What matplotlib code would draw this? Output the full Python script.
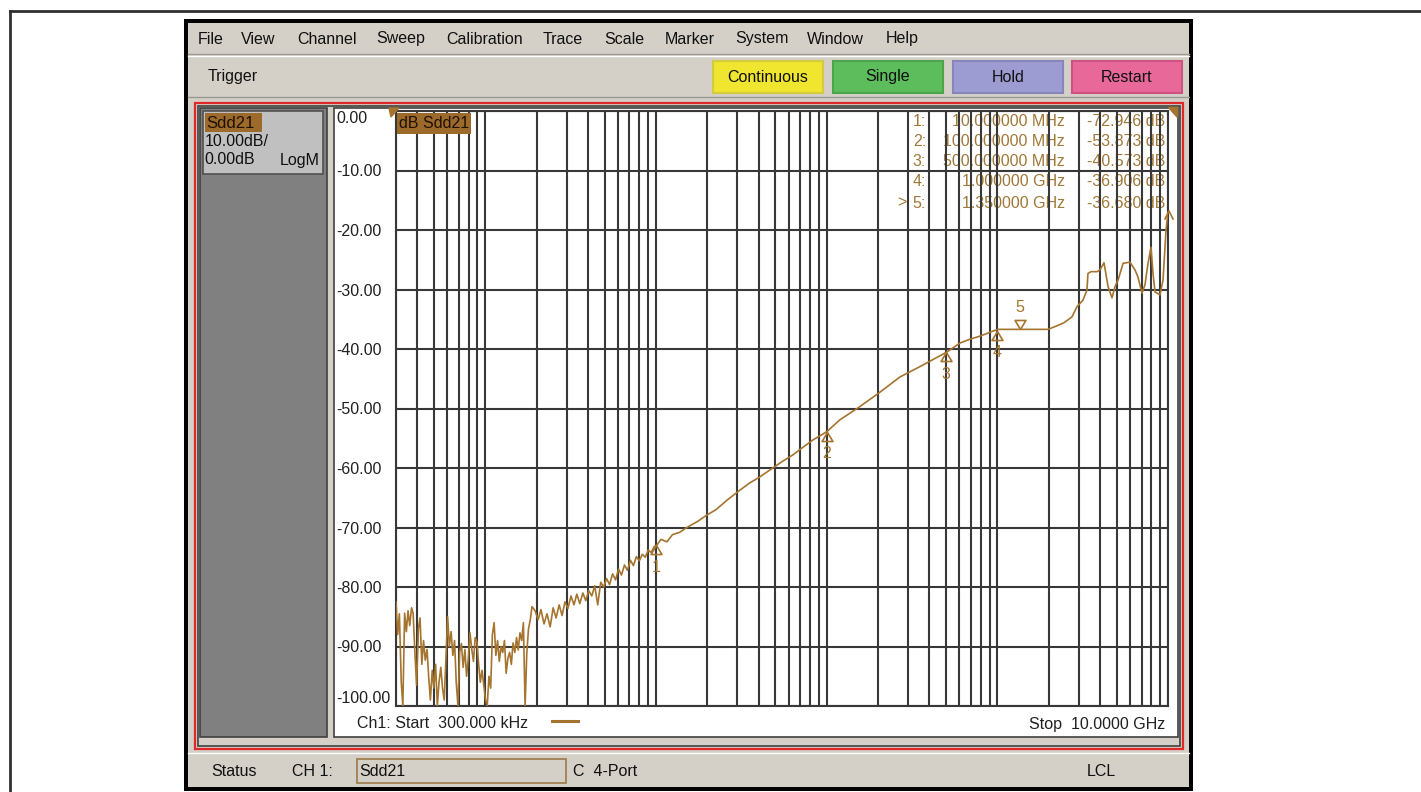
import matplotlib
matplotlib.use("Agg")
import matplotlib.pyplot as plt
from matplotlib.patches import Rectangle, Polygon
from matplotlib.ticker import FixedLocator, NullFormatter, NullLocator
import numpy as np

plt.rcParams['font.family'] = ['Liberation Sans', 'DejaVu Sans']

# trace: frequency in MHz, Sdd21 in dB
# noise floor part (300 kHz .. 1.9 MHz)
noise_mhz = [0.300, 0.307, 0.314, 0.322, 0.329, 0.337, 0.345, 0.353, 0.361, 0.370,
             0.378, 0.387, 0.396, 0.406, 0.415, 0.425, 0.435, 0.445, 0.456, 0.466,
             0.477, 0.489, 0.500, 0.512, 0.524, 0.536, 0.549, 0.562, 0.575, 0.588,
             0.602, 0.616, 0.631, 0.646, 0.661, 0.676, 0.692, 0.708, 0.725, 0.742,
             0.760, 0.777, 0.796, 0.814, 0.834, 0.853, 0.873, 0.894, 0.915, 0.936,
             0.958, 0.981, 1.004, 1.027, 1.051, 1.076, 1.101, 1.127, 1.154, 1.181,
             1.209, 1.237, 1.266, 1.296, 1.326, 1.357, 1.389, 1.422, 1.455, 1.490,
             1.525, 1.560, 1.597, 1.635, 1.673, 1.712, 1.752, 1.793, 1.836, 1.879]
noise_db = [-82.5, -88.0, -84.5, -96.0, -100, -84.4, -87.5, -84.0, -86.5, -83.5,
            -84.4, -91.0, -96.5, -87.0, -85.2, -93.0, -89.0, -92.3, -90.5, -95.0,
            -99.0, -94.0, -97.0, -93.0, -100, -96.0, -93.5, -97.0, -99.0, -92.0,
            -85.0, -90.0, -87.5, -91.5, -89.0, -96.0, -100, -91.0, -89.5, -93.5,
            -90.5, -95.0, -92.0, -87.7, -90.5, -92.5, -88.5, -89.2, -93.0, -96.0,
            -94.0, -96.5, -99.0, -100, -95.0, -97.0, -88.0, -86.0, -91.5, -89.0,
            -92.5, -90.0, -91.0, -89.0, -94.5, -92.0, -91.0, -93.0, -89.4, -91.0,
            -88.5, -90.6, -87.7, -89.0, -86.0, -100, -91.0, -87.0, -85.5, -83.3]
# rising part (1.9 MHz .. 10 GHz)
rise_mhz = [1.96, 2.04, 2.12, 2.21, 2.30, 2.40, 2.50, 2.60, 2.71, 2.82,
            2.93, 3.05, 3.18, 3.31, 3.44, 3.58, 3.73, 3.88, 4.04, 4.21,
            4.38, 4.56, 4.75, 4.94, 5.14, 5.35, 5.57, 5.80, 6.04, 6.28,
            6.54, 6.81, 7.09, 7.38, 7.68, 7.99, 8.32, 8.66, 9.01, 9.38,
            9.77, 10.1, 10.7, 11.6, 12.5, 13.8, 14.8, 15.8, 17.5, 19.9,
            22.5, 26.1, 31.1, 35.5, 40.6, 48.4, 55.0, 63.4, 72.0, 83.0,
            100.2, 119.6, 152.6, 200, 269, 350, 430, 507, 604, 700,
            760, 850, 942, 1008, 1350, 1980, 2238, 2450, 2594, 2738,
            2928, 3173, 3351, 3397, 3538, 3836, 3995, 4218, 4452, 4700,
            4896, 5100, 5455, 5987, 6404, 6669, 7040, 7332, 7636, 7952,
            8169, 8393, 8977, 9350, 9736, 10000]
rise_db = [-84.0, -85.5, -83.8, -86.2, -84.5, -86.7, -83.5, -85.2, -83.0, -84.8,
           -82.5, -83.6, -81.5, -83.0, -81.2, -82.8, -81.0, -82.3, -80.6, -81.5,
           -79.8, -83.0, -79.2, -80.0, -78.6, -79.6, -77.8, -78.8, -77.0, -78.0,
           -76.3, -77.2, -75.5, -76.4, -74.9, -75.6, -74.5, -75.0, -73.8, -74.2,
           -73.2, -73.0, -72.0, -72.4, -71.2, -70.8, -70.2, -69.7, -69.0, -67.9,
           -67.0, -65.4, -63.7, -62.5, -61.5, -60.0, -58.9, -57.8, -56.6, -55.3,
           -53.9, -51.9, -49.9, -47.5, -44.7, -43.0, -41.6, -40.5, -39.0, -38.3,
           -38.0, -37.5, -37.0, -36.7, -36.7, -36.7, -36.1, -35.6, -35.1, -34.6,
           -32.9, -31.8, -30.1, -27.3, -27.0, -27.0, -26.7, -25.5, -29.5, -31.4,
           -29.5, -28.4, -25.6, -25.4, -26.7, -27.9, -30.6, -29.2, -25.6, -22.9,
           -27.3, -30.4, -30.9, -28.4, -20.0, -17.1]

# marker readout
mk_num = [1, 2, 3, 4, 5]
mk_freq_mhz = [10.0, 100.0, 500.0, 1000.0, 1350.0]
mk_db = [-72.946, -53.873, -40.573, -36.906, -36.680]
mk_freq_txt = ["10.000000 MHz", "100.000000 MHz", "500.000000 MHz",
               "1.000000 GHz", "1.350000 GHz"]

y_ticks = list(range(0, -101, -10))
y_labels = ["0.00", "-10.00", "-20.00", "-30.00", "-40.00", "-50.00",
            "-60.00", "-70.00", "-80.00", "-90.00", "-100.00"]

menu = ["File", "View", "Channel", "Sweep", "Calibration", "Trace",
        "Scale", "Marker", "System", "Window", "Help"]
menu_x = [198, 241, 297, 376, 446, 543, 604, 665, 735, 807, 886]

buttons = ["Continuous", "Single", "Hold", "Restart"]
button_x = [(713, 823), (833, 943), (953, 1063), (1072, 1182)]
button_fc = ["#f0e630", "#5dbd5d", "#9c9cd2", "#e8689a"]
button_ec = ["#d4cc40", "#4ca44c", "#8686bc", "#cc5282"]

UI = "#d4d0c8"
BROWN = "#a5742f"
TXT = "#a07838"
GRID = "#383838"

W, H = 1421, 792
fig = plt.figure(figsize=(W / 100, H / 100), dpi=100)

bg = fig.add_axes([0, 0, 1, 1], zorder=0)
bg.set_xlim(0, W)
bg.set_ylim(H, 0)
bg.axis("off")


def box(a, x0, y0, x1, y1, fc, ec="none", lw=0):
    a.add_patch(Rectangle((x0, y0), x1 - x0, y1 - y0, facecolor=fc,
                          edgecolor=ec, linewidth=lw))


# page border lines
bg.plot([9.5, 9.5], [H, 11], color="#303030", lw=2)
bg.plot([9.5, W], [11, 11], color="#303030", lw=2)

# application window
box(bg, 184, 19, 1193, 791, "black")
box(bg, 188, 23, 1189, 787, UI)
bg.plot([188, 1189], [54, 54], color="#9a9890", lw=1)
bg.plot([188, 1189], [55.5, 55.5], color="white", lw=1)
for m, x in zip(menu, menu_x):
    bg.text(x, 39, m, fontsize=11.5, va="center", ha="left", color="#101010")

bg.text(208, 77, "Trigger", fontsize=11.5, va="center", ha="left", color="#101010")
for b, (x0, x1), fc, ec in zip(buttons, button_x, button_fc, button_ec):
    box(bg, x0, 61, x1, 93, fc, ec, 1.5)
    bg.text((x0 + x1) / 2, 77, b, fontsize=11.5, ha="center", va="center", color="#101010")
bg.plot([188, 1189], [97, 97], color="#9a9890", lw=1)

# measurement panel frame
box(bg, 195, 103, 1183, 749, "none", "#e02828", 1.6)
box(bg, 198, 106, 1180, 746, "#d4d0c8", "#404040", 1.2)
box(bg, 200, 108, 327, 737, "#808080", "#404040", 1.2)
box(bg, 334, 108, 1178, 737, "white", "#404040", 1.2)

# trace info box at left
box(bg, 203, 111, 323, 174, "#c0c0c0", "#505050", 1.2)
box(bg, 205, 113, 262, 132, "#9c6a2a")
bg.text(206, 123, "Sdd21", fontsize=12, va="center", ha="left", color="#201000")
bg.text(205, 142, "10.00dB/", fontsize=11.5, va="center", ha="left", color="#101010")
bg.text(204, 160, "0.00dB", fontsize=11.5, va="center", ha="left", color="#101010")
bg.text(320, 160, "LogM", fontsize=11.5, va="center", ha="right", color="#101010")

# marker table (grid lines run over it)
row_y = [121, 141, 162, 182, 203]
for n, ft, v, y in zip(mk_num, mk_freq_txt, mk_db, row_y):
    bg.text(926, y, f"{n}:", fontsize=11.5, ha="right", va="center", color=TXT)
    bg.text(1065, y, ft, fontsize=11.5, ha="right", va="center", color=TXT)
    bg.text(1165, y, f"{v:.3f} dB", fontsize=11.5, ha="right", va="center", color=TXT)
bg.text(907, row_y[-1], ">", fontsize=11.5, ha="right", va="center", color=TXT)

# footer of the plot
bg.text(357, 724, "Ch1: Start  300.000 kHz", fontsize=11.5, ha="left", va="center", color="#202020")
bg.plot([552, 578], [721, 721], color=BROWN, lw=2.2)
bg.text(1165, 724, "Stop  10.0000 GHz", fontsize=11.5, ha="right", va="center", color="#202020")

# status bar
bg.plot([188, 1189], [753, 753], color="white", lw=1)
bg.text(211, 771, "Status", fontsize=11.5, ha="left", va="center", color="#101010")
bg.text(292, 771, "CH 1:", fontsize=11.5, ha="left", va="center", color="#101010")
box(bg, 357, 759, 566, 783, "none", "#a08050", 1.3)
bg.text(359, 771, "Sdd21", fontsize=11.5, ha="left", va="center", color="#101010")
bg.text(573, 771, "C  4-Port", fontsize=11.5, ha="left", va="center", color="#101010")
bg.text(1087, 771, "LCL", fontsize=11.5, ha="left", va="center", color="#101010")

# the measurement axes
ax = fig.add_axes([396 / W, (H - 706) / H, 772 / W, 595 / H], zorder=1)
ax.set_facecolor("none")
ax.set_xscale("log")
ax.set_xlim(3e5, 1e10)
ax.set_ylim(-100, 0)

xgrid = [m * 10.0 ** e for e in range(5, 10) for m in range(1, 10)] + [1e10]
xgrid = [g for g in xgrid if 3e5 <= g <= 1e10]
ax.xaxis.set_major_locator(FixedLocator(xgrid))
ax.xaxis.set_minor_locator(NullLocator())
ax.xaxis.set_major_formatter(NullFormatter())
ax.set_yticks(y_ticks)
ax.set_yticklabels(y_labels, ha="left", fontsize=11.5, color="#202020")
ax.tick_params(axis="both", length=0)
ax.tick_params(axis="y", pad=43)
ax.grid(True, color=GRID, lw=1.5)
for s in ax.spines.values():
    s.set_color(GRID)
    s.set_linewidth(1.5)
for t, v in zip(ax.get_yticklabels(), y_ticks):
    if v == 0:
        t.set_va("top")
    elif v == -100:
        t.set_va("bottom")

freq_hz = np.array(noise_mhz + rise_mhz) * 1e6
ax.plot(freq_hz, noise_db + rise_db, color=BROWN, lw=1.2, zorder=3)

up = [(0, 0), (-0.6, -1), (0.6, -1), (0, 0)]
down = [(0, 0), (-0.6, 1), (0.6, 1), (0, 0)]
for n, f, v in zip(mk_num, mk_freq_mhz, mk_db):
    tri = down if n == 5 else up
    off = 16 if n == 5 else -16
    ax.plot([f * 1e6], [v], marker=tri, ls="none", mfc="none", mec=BROWN,
            ms=13, mew=1.2, zorder=4)
    ax.annotate(str(n), (f * 1e6, v), xytext=(0, off), textcoords="offset points",
                ha="center", va="center", fontsize=11.5, color=BROWN, zorder=4)

# items drawn over the grid
top = fig.add_axes([0, 0, 1, 1], zorder=2)
top.set_xlim(0, W)
top.set_ylim(H, 0)
top.axis("off")
box(top, 397, 113, 471, 134, "#9c6a2a")
top.text(399, 124, "dB Sdd21", fontsize=11.5, va="center", ha="left", color="#201000")
top.add_patch(Polygon([(389, 108), (399, 108), (391, 117)], closed=True, color=BROWN))
top.add_patch(Polygon([(1168, 107), (1177, 107), (1177, 117)], closed=True, color=BROWN))
top.plot([1165, 1169, 1173], [219, 211, 219], color=BROWN, lw=1.2)

fig.savefig("out.png", dpi=100)
